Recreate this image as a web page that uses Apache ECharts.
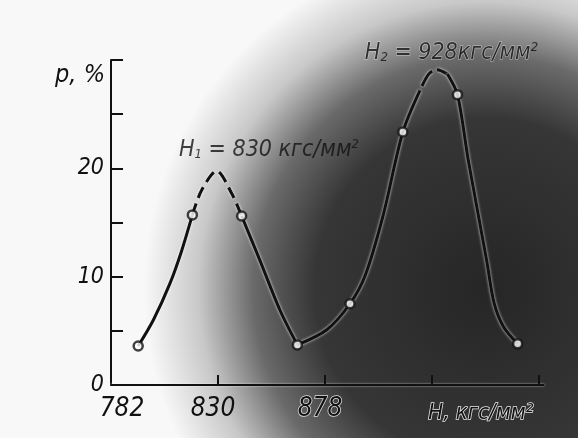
<!DOCTYPE html>
<html><head><meta charset="utf-8">
<script src="https://cdn.jsdelivr.net/npm/echarts@6/dist/echarts.min.js"></script>
<style>html,body{margin:0;padding:0;background:#fff}#c{width:578px;height:438px}</style>
</head><body><div id="c"></div>
<script>
// ---- data ----
const xTickValues = [830, 878, 926, 974];
const xLabelValues = [782, 830, 878];
const yLabelValues = [0, 10, 20];
const xAxisTitle = 'H, кгс/мм²';
const yAxisTitle = 'p, %';
const markerPoints = [[794.2,3.6],[818.5,15.7],[840.6,15.6],[865.6,3.7],[889.2,7.5],[912.9,23.35],[937.4,26.8],[964.4,3.8]];
const solid1 = [[794.2,3.6],[801,6.0],[808.5,9.4],[813.7,12.4],[818.5,15.7]];
const dashed1 = [[818.5,15.7],[822.7,18.0],[829.4,19.75],[836.1,17.7],[840.6,15.6]];
const solid2 = [[840.6,15.6],[848.8,11.5],[857.8,6.9],[865.6,3.7]];
const solid3 = [[865.6,3.7],[878.8,5.1],[889.2,7.5],[896,10.1],[904,15.6],[912.9,23.35],[920.6,27.2]];
const dashed2 = [[920.6,27.2],[924.5,28.7],[928.1,29.1],[932.9,28.7]];
const solid4 = [[932.9,28.7],[937.4,26.8],[942.3,20.7],[950.5,11.5],[953.8,7.6],[958,5.4],[964.4,3.8]];
const peaks = [[830,19.75],[928,29.1]];
const peakIndex = ['1', '2'];
const peakValues = ['830 ', '928'];

const FONT = "'Liberation Sans Narrow','DejaVu Sans Condensed','Liberation Sans',sans-serif";
const INK = '#111';

const chart = echarts.init(document.getElementById('c'), null, {renderer: 'canvas'});

function lineSeries(data, dashed, dashOpt) {
  return {
    type: 'line', data: data, smooth: 0.3, symbol: 'none', z: 3,
    lineStyle: {color: INK, width: 3, type: dashed ? dashOpt.type : 'solid',
      dashOffset: dashed ? dashOpt.offset : 0, shadowColor: 'rgba(255,255,255,0.9)', shadowBlur: 3, cap: 'butt'},
    silent: true, animation: false
  };
}

chart.setOption({
  animation: false,
  backgroundColor: {
    type: 'radial', x: 0.84, y: 0.66, r: 0.78,
    colorStops: [
      {offset: 0, color: '#262626'},
      {offset: 0.5, color: '#363636'},
      {offset: 0.68, color: '#6a6a6a'},
      {offset: 0.84, color: '#c8c8c8'},
      {offset: 1, color: '#f8f8f8'}
    ]
  },
  grid: {left: 111, right: 34.5, top: 60, bottom: 53, containLabel: false},
  xAxis: {
    type: 'value', min: 782, max: 976,
    axisLine: {show: true, lineStyle: {color: INK, width: 2, shadowColor: 'rgba(255,255,255,0.8)', shadowBlur: 2}},
    splitLine: {show: false},
    axisTick: {show: true, inside: true, length: 10, customValues: xTickValues, lineStyle: {color: INK, width: 2}},
    axisLabel: {
      customValues: xLabelValues, margin: 11,
      formatter: v => v === 782 ? '{a|' + v + '}' : (v === 878 ? '{c|' + v + '}' : '{b|' + v + '}'),
      rich: {
        a: {fontFamily: FONT, fontStyle: 'italic', fontSize: 26, color: INK, padding: [0, 0, 0, 22]},
        b: {fontFamily: FONT, fontStyle: 'italic', fontSize: 26, color: INK, padding: [0, 10, 0, 0]},
        c: {fontFamily: FONT, fontStyle: 'italic', fontSize: 26, color: INK, padding: [0, 10, 0, 0], textBorderColor: '#ddd', textBorderWidth: 1.5}
      }
    },
    name: xAxisTitle, nameLocation: 'end', nameGap: -10,
    nameTextStyle: {fontFamily: FONT, fontStyle: 'italic', fontSize: 22, color: INK, align: 'right', verticalAlign: 'top',
      padding: [17, 0, 0, 0], textBorderColor: '#e8e8e8', textBorderWidth: 1.5}
  },
  yAxis: {
    type: 'value', min: 0, max: 30, interval: 5,
    axisLine: {show: true, lineStyle: {color: INK, width: 2}},
    splitLine: {show: false},
    axisTick: {show: true, inside: true, length: 12, lineStyle: {color: INK, width: 2}},
    axisLabel: {
      margin: 7, fontFamily: FONT, fontStyle: 'italic', fontSize: 23, color: INK,
      formatter: v => yLabelValues.indexOf(v) >= 0 ? String(v) : ''
    },
    name: yAxisTitle, nameLocation: 'end', nameGap: -3,
    nameTextStyle: {fontFamily: FONT, fontStyle: 'italic', fontSize: 25, color: INK, align: 'right', verticalAlign: 'top', padding: [0, 6, 0, 0]}
  },
  series: [
    lineSeries(solid1, false),
    lineSeries(dashed1, true, {type: [12, 6], offset: 0}),
    lineSeries(solid2, false),
    lineSeries(solid3, false),
    lineSeries(dashed2, true, {type: [18, 5], offset: 18}),
    lineSeries(solid4, false),
    {
      type: 'scatter', data: markerPoints, symbol: 'circle', symbolSize: 9, z: 5, silent: true,
      itemStyle: {color: '#fff', borderColor: INK, borderWidth: 2.5}
    },
    {
      type: 'scatter', data: peaks, symbolSize: 0, z: 6, clip: false, silent: true,
      label: {
        show: true, position: 'inside',
        formatter: p => p.dataIndex === 0
          ? '{h|H}{s|' + peakIndex[0] + '}{h| = ' + peakValues[0] + 'кгс/мм}{u|2}'
          : '{k|H}{s|' + peakIndex[1] + '}{k| = ' + peakValues[1] + 'кгс/мм}{u|2}',
        rich: {
          h: {fontFamily: FONT, fontStyle: 'italic', fontSize: 23, color: INK},
          k: {fontFamily: FONT, fontStyle: 'italic', fontSize: 23, color: INK, textBorderColor: 'rgba(235,235,235,0.8)', textBorderWidth: 1},
          s: {fontFamily: FONT, fontStyle: 'italic', fontSize: 13, color: INK, verticalAlign: 'bottom'},
          u: {fontFamily: FONT, fontStyle: 'italic', fontSize: 13, color: INK, verticalAlign: 'top'}
        }
      },
      labelLayout: p => p.dataIndex === 0 ? {dx: 51, dy: -21} : {dx: 15, dy: -17}
    }
  ]
});
</script></body></html>
